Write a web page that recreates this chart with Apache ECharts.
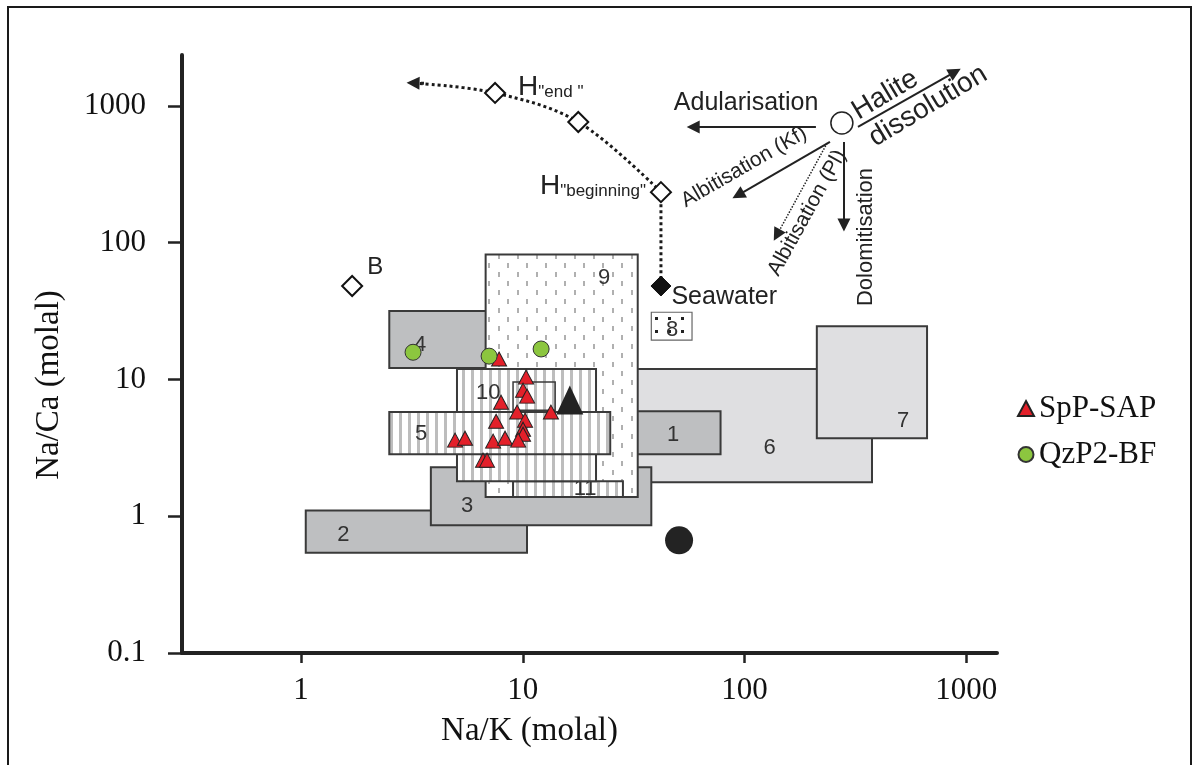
<!DOCTYPE html>
<html>
<head>
<meta charset="utf-8">
<script src="https://cdn.jsdelivr.net/npm/echarts@6/dist/echarts.min.js"></script>
<style>
  html, body { margin: 0; padding: 0; background: #fff; }
  #chart { width: 1192px; height: 765px; }
</style>
</head>
<body>
<div id="chart"></div>
<script>
// ---- sample data (molal ratios) ----
const sppSapNaK  = [7.82, 10.35, 10.03, 10.46, 7.98, 9.43, 13.4, 7.58, 10.24, 10.03, 10.03, 4.95, 5.49, 7.35, 8.32, 9.53, 6.62, 6.90];
const sppSapNaCa = [14.1, 10.4, 8.35, 7.55, 6.82, 5.77, 5.77, 4.95, 5.04, 4.33, 3.98, 3.60, 3.72, 3.54, 3.72, 3.60, 2.57, 2.57];
const qzp2BfNaK  = [3.20, 7.05, 12.1];
const qzp2BfNaCa = [15.8, 14.8, 16.7];

// reference end-members
const blackTriangle = [16.3, 7.06];
const blackCircle   = [50.7, 0.667];
const seawater      = [42, 48.2];
const pointB        = [1.70, 48.2];
const halite        = [275, 750];
// evaporation path of seawater: H"beginning" -> H"end" -> beyond
const hPathNaK  = [42, 17.8, 7.5, 3.2];
const hPathNaCa = [234, 762, 1243, 1470];

// compositional fields, listed from bottom to top of the stack
const fieldLabels  = ['6', '7', '1', '2', '3', '4', '9', '8', '11', '10', '', '5'];
const fieldNaK     = [[15, 376], [212, 666], [20, 78], [1.05, 10.45], [3.85, 38], [2.5, 10], [6.8, 33], [38, 58], [9.04, 28.3], [5.05, 21.4], [9.04, 14.0], [2.5, 24.8]];
const fieldNaCa    = [[1.77, 11.9], [3.72, 24.5], [2.84, 5.86], [0.54, 1.1], [0.86, 2.28], [12.1, 31.6], [1.38, 82], [19.4, 31], [1.38, 1.80], [1.80, 11.9], [5.96, 9.56], [2.84, 5.77]];
const fieldLabelAt = [[130, 3.15], [519, 4.95], [47.6, 3.91], [1.55, 0.726], [5.61, 1.18], [3.44, 17.8], [23.3, 55.1], [47.2, 22.9], [19.1, 1.58], [6.98, 7.94], [11, 7.5], [3.48, 3.98]];

// process arrows radiating from the halite point
const arrowNames   = ['Adularisation', 'Halite dissolution', 'Albitisation (Kf)', 'Albitisation (Pl)', 'Dolomitisation'];
const arrowFrom    = [[210, 701], [325, 701], [243, 545], [236, 535], [281, 545]];
const arrowTo      = [[58.7, 701], [891, 1770], [93.6, 223], [140, 113.7], [281, 134.5]];

// process annotations
const noteTexts = ['Adularisation', 'Halite', 'dissolution', 'Albitisation (Kf)', 'Albitisation (Pl)', 'Dolomitisation'];
const noteAt    = [[101.7, 1050], [431, 1202], [673, 998], [99.6, 357], [191.5, 165], [354, 110]];

// axis ticks
const naKTicks  = [1, 10, 100, 1000];
const naCaTicks = [0.1, 1, 10, 100, 1000];

// ---- helpers ----
const lg = Math.log10;
const P = (pair) => [lg(pair[0]), lg(pair[1])];
const tickText = (v) => {
  const t = Math.pow(10, Math.round(v));
  return t < 1 ? t.toFixed(1) : String(Math.round(t));
};

function tile(w, h, draw) {
  const c = document.createElement('canvas');
  c.width = w; c.height = h;
  const g = c.getContext('2d');
  g.fillStyle = '#ffffff';
  g.fillRect(0, 0, w, h);
  draw(g);
  return { image: c, repeat: 'repeat' };
}
const stripes = tile(9, 4, g => { g.fillStyle = '#bdbdbd'; g.fillRect(3, 0, 3, 4); });
const dots = tile(19, 18, g => { g.fillStyle = '#b0b0b0'; g.fillRect(4, 2, 2, 5); g.fillRect(13, 11, 2, 5); });
const darkDots = tile(13, 13, g => { g.fillStyle = '#222'; g.fillRect(5, 5, 3, 3); });

const look = {
  dark:   { fill: '#bebfc1', stroke: '#3a3a3a', lineWidth: 2 },
  light:  { fill: '#dfdfe1', stroke: '#3a3a3a', lineWidth: 2 },
  dotted: { fill: dots, stroke: '#3a3a3a', lineWidth: 2 },
  hatch:  { fill: stripes, stroke: '#3a3a3a', lineWidth: 2 },
  seal:   { fill: darkDots, stroke: '#666', lineWidth: 1.2 },
  open:   { fill: 'none', stroke: '#3a3a3a', lineWidth: 1.5 }
};
const fieldLook = { '6': 'light', '7': 'light', '1': 'dark', '2': 'dark', '3': 'dark', '4': 'dark',
                    '9': 'dotted', '8': 'seal', '11': 'hatch', '10': 'hatch', '': 'open', '5': 'hatch' };

const SANS = 'Liberation Sans';
const SERIF = 'Liberation Serif';

const fieldData = fieldLabels.map((lab, i) => [
  lg(fieldNaK[i][0]), lg(fieldNaCa[i][0]), lg(fieldNaK[i][1]), lg(fieldNaCa[i][1]),
  lg(fieldLabelAt[i][0]), lg(fieldLabelAt[i][1])
]);

function renderField(params, api) {
  const i = params.dataIndex;
  const lab = fieldLabels[i];
  const st = look[fieldLook[lab]];
  const a = api.coord([api.value(0), api.value(3)]);
  const b = api.coord([api.value(2), api.value(1)]);
  const children = [{
    type: 'rect',
    shape: { x: a[0], y: a[1], width: b[0] - a[0], height: b[1] - a[1] },
    style: { fill: st.fill, stroke: st.stroke, lineWidth: st.lineWidth }
  }];
  if (lab) {
    const c = api.coord([api.value(4), api.value(5)]);
    children.push({
      type: 'text', x: c[0], y: c[1],
      style: { text: lab, fontFamily: SANS, fontSize: 22, fill: '#333', align: 'center', verticalAlign: 'middle' }
    });
  }
  return { type: 'group', children };
}

const noteAngle = [0, 31, 31, 30, 61, 90];
const noteSize  = [25, 28, 28, 21, 21, 22];
function renderNote(params, api) {
  const i = params.dataIndex;
  const c = api.coord([api.value(0), api.value(1)]);
  return {
    type: 'text', x: c[0], y: c[1], rotation: noteAngle[i] * Math.PI / 180,
    style: { text: noteTexts[i], fontFamily: SANS, fontSize: noteSize[i], fill: '#222', align: 'center', verticalAlign: 'middle' }
  };
}

const hRich = {
  h: { fontFamily: SANS, fontSize: 28, color: '#222', verticalAlign: 'bottom' },
  s: { fontFamily: SANS, fontSize: 17, color: '#222', verticalAlign: 'bottom' }
};
const solid = { opacity: 1 };

const option = {
  animation: false,
  backgroundColor: '#fff',
  grid: { left: 182, right: 195, top: 55, bottom: 112, containLabel: false },
  xAxis: {
    type: 'value', min: -0.537, max: 3.139,
    axisLine: { onZero: false, lineStyle: { color: '#222', width: 4 } },
    axisTick: { show: true, customValues: naKTicks.map(lg), length: 10, lineStyle: { color: '#222', width: 2.5 } },
    axisLabel: { customValues: naKTicks.map(lg), formatter: tickText, margin: 22, fontFamily: SERIF, fontSize: 31, color: '#111' },
    splitLine: { show: false },
    name: 'Na/K (molal)', nameLocation: 'middle', nameGap: 62,
    nameTextStyle: { fontFamily: SERIF, fontSize: 33, color: '#111', padding: [0, 120, 0, 0] }
  },
  yAxis: {
    type: 'value', min: -1, max: 3.372,
    axisLine: { onZero: false, lineStyle: { color: '#222', width: 4 } },
    axisTick: { show: true, customValues: naCaTicks.map(lg), length: 14, lineStyle: { color: '#222', width: 2.5 } },
    axisLabel: { customValues: naCaTicks.map(lg), formatter: tickText, margin: 36, fontFamily: SERIF, fontSize: 31, color: '#111' },
    splitLine: { show: false },
    name: 'Na/Ca (molal)', nameLocation: 'middle', nameGap: 116,
    nameTextStyle: { fontFamily: SERIF, fontSize: 33, color: '#111', padding: [0, 62, 0, 0] }
  },
  legend: {
    data: ['SpP-SAP', 'QzP2-BF'], orient: 'vertical', left: 1012, top: 388,
    itemGap: 15, itemWidth: 16, itemHeight: 15, selectedMode: false,
    textStyle: { fontFamily: SERIF, fontSize: 31, color: '#111' }
  },
  graphic: [{
    type: 'rect', silent: true, z: 100,
    shape: { x: 8, y: 7, width: 1183, height: 800 },
    style: { fill: 'none', stroke: '#1a1a1a', lineWidth: 2 }
  }],
  series: [
    {
      name: 'fields', type: 'custom', renderItem: renderField, z: 1,
      data: fieldData, encode: { x: [0, 2], y: [1, 3] }, silent: true
    },
    {
      name: 'seawater path', type: 'line', smooth: 0.35, z: 4, silent: true,
      data: hPathNaK.map((v, i) => [lg(v), lg(hPathNaCa[i])]),
      showSymbol: false, symbol: 'none',
      lineStyle: { color: '#1a1a1a', width: 3, type: 'dotted', opacity: 1 }
    },
    {
      name: 'seawater link', type: 'line', z: 4, silent: true,
      data: [P([seawater[0], hPathNaCa[0]]), P(seawater)],
      symbol: 'none', lineStyle: { color: '#1a1a1a', width: 3, type: 'dotted', opacity: 1 }
    },
    {
      name: 'arrows', type: 'lines', coordinateSystem: 'cartesian2d', z: 5, silent: true,
      symbol: ['none', 'triangle'], symbolSize: 13,
      lineStyle: { color: '#222', width: 2, opacity: 1 },
      data: arrowNames.map((n, i) => ({
        name: n, coords: [P(arrowFrom[i]), P(arrowTo[i])],
        lineStyle: n === 'Albitisation (Pl)' ? { type: 'dotted', width: 1.5 } : {}
      })).concat([{
        name: 'path end',
        coords: [P([hPathNaK[3] * 1.12, hPathNaCa[3] * 0.995]), P([hPathNaK[3], hPathNaCa[3]])],
        lineStyle: { type: 'dotted', width: 3 }
      }])
    },
    {
      name: 'H path', type: 'scatter', z: 6, silent: true,
      symbol: 'diamond', symbolSize: 20,
      itemStyle: { color: '#fff', borderColor: '#111', borderWidth: 2, opacity: 1 },
      data: [
        { value: [lg(hPathNaK[0]), lg(hPathNaCa[0])],
          label: { show: true, position: 'left', distance: 4, offset: [0, -6], formatter: '{h|H}{s|"beginning"}', rich: hRich } },
        { value: [lg(hPathNaK[1]), lg(hPathNaCa[1])] },
        { value: [lg(hPathNaK[2]), lg(hPathNaCa[2])],
          label: { show: true, position: 'right', distance: 12, offset: [0, -6], formatter: '{h|H}{s|"end "}', rich: hRich } },
        { value: P(pointB),
          label: { show: true, position: 'right', distance: 4, offset: [0, -19], formatter: 'B', fontFamily: SANS, fontSize: 24, color: '#222' } }
      ]
    },
    {
      name: 'Seawater', type: 'scatter', z: 6, silent: true,
      symbol: 'diamond', symbolSize: 20,
      itemStyle: { color: '#111', borderColor: '#111', borderWidth: 1, opacity: 1 },
      label: { show: true, position: 'right', distance: 0, offset: [0, 11], formatter: 'Seawater', fontFamily: SANS, fontSize: 25, color: '#222' },
      data: [P(seawater)]
    },
    {
      name: 'Halite', type: 'scatter', z: 6, silent: true,
      symbol: 'circle', symbolSize: 22,
      itemStyle: { color: '#fff', borderColor: '#222', borderWidth: 1.5, opacity: 1 },
      data: [P(halite)]
    },
    {
      name: 'notes', type: 'custom', renderItem: renderNote, z: 7, silent: true,
      data: noteAt.map(P), encode: { x: 0, y: 1 }
    },
    {
      name: 'end-members', type: 'scatter', z: 6, silent: true,
      data: [
        { value: P(blackTriangle), symbol: 'triangle', symbolSize: [27, 29] },
        { value: P(blackCircle), symbol: 'circle', symbolSize: 28 }
      ],
      itemStyle: { color: '#232323', opacity: 1 }
    },
    {
      name: 'SpP-SAP', type: 'scatter', z: 8,
      symbol: 'triangle', symbolSize: [15, 14],
      itemStyle: { color: '#e3202a', borderColor: '#222', borderWidth: 1, opacity: 1 },
      data: sppSapNaK.map((v, i) => [lg(v), lg(sppSapNaCa[i])])
    },
    {
      name: 'QzP2-BF', type: 'scatter', z: 8,
      symbol: 'circle', symbolSize: 16,
      itemStyle: { color: '#8cc63f', borderColor: '#333', borderWidth: 1, opacity: 1 },
      data: qzp2BfNaK.map((v, i) => [lg(v), lg(qzp2BfNaCa[i])])
    }
  ]
};

const chart = echarts.init(document.getElementById('chart'), null, { renderer: 'canvas' });
chart.setOption(option);
</script>
</body>
</html>
